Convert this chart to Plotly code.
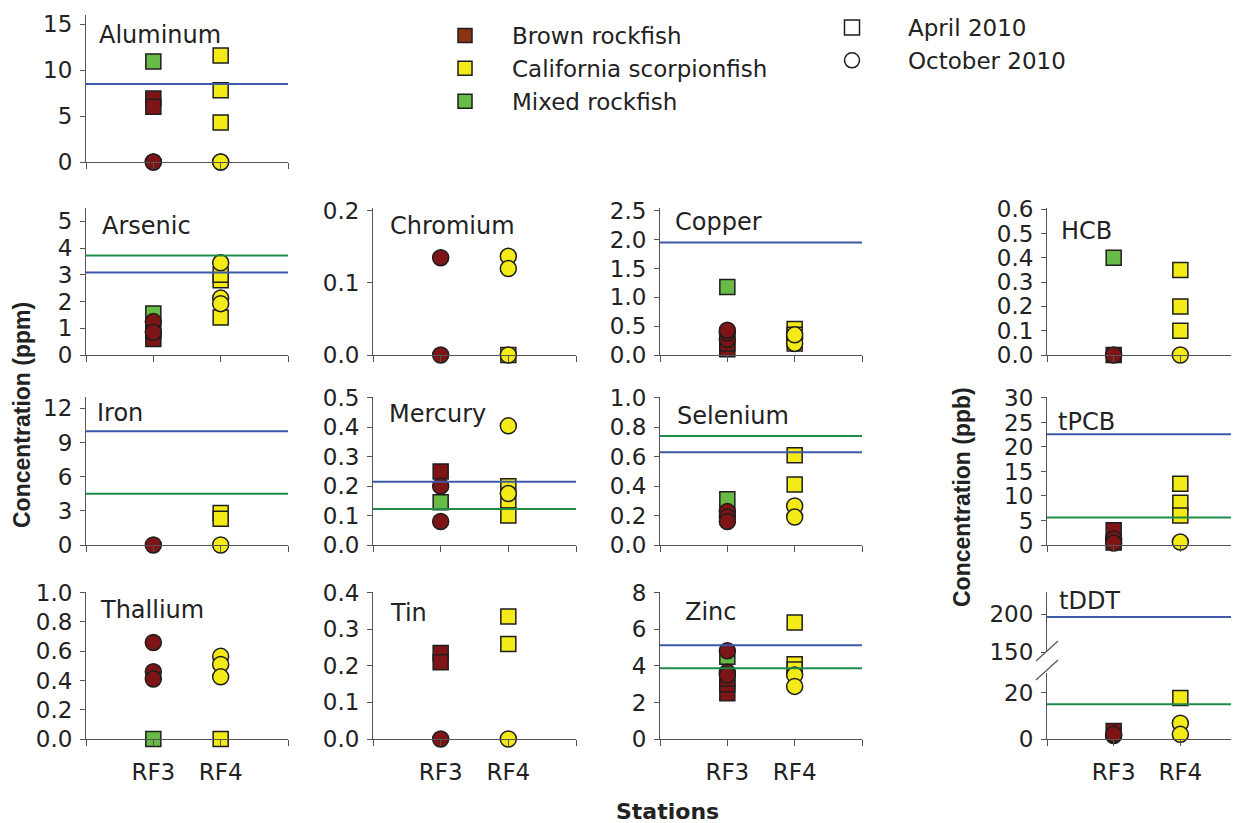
import plotly.graph_objects as go

# ---------------- data ----------------
STATIONS = ["RF3", "RF4"]
ELEMENTS = ["Aluminum", "Arsenic", "Chromium", "Copper", "HCB",
            "Iron", "Mercury", "Selenium", "tPCB",
            "Thallium", "Tin", "Zinc", "tDDT"]

# Brown rockfish and Mixed rockfish were caught at RF3, California scorpionfish at RF4
BROWN_APR = {"Aluminum": [6.9, 6.0], "Arsenic": [0.6, 0.9], "Chromium": [],
             "Copper": [0.1, 0.2], "HCB": [0.0], "Iron": [], "Mercury": [0.25],
             "Selenium": [0.2], "tPCB": [3.0, 0.5], "Thallium": [],
             "Tin": [0.235, 0.21], "Zinc": [2.5, 3.0, 3.3], "tDDT": [3.5]}
MIXED_APR = {"Aluminum": [10.95], "Arsenic": [1.55], "Chromium": [],
             "Copper": [1.18], "HCB": [0.40], "Iron": [], "Mercury": [0.145],
             "Selenium": [0.31], "tPCB": [], "Thallium": [0.0],
             "Tin": [], "Zinc": [4.5], "tDDT": []}
SCORP_APR = {"Aluminum": [11.6, 7.8, 4.3], "Arsenic": [1.4, 2.8, 3.0], "Chromium": [0.0],
             "Copper": [0.45, 0.2, 0.35], "HCB": [0.35, 0.2, 0.1], "Iron": [2.8, 2.3],
             "Mercury": [0.2, 0.15, 0.1], "Selenium": [0.61, 0.41], "tPCB": [12.5, 8.6, 6.0],
             "Thallium": [0.0], "Tin": [0.335, 0.26], "Zinc": [6.38, 4.1, 3.8], "tDDT": [17.7]}
BROWN_OCT = {"Aluminum": [0.0, 0.0], "Arsenic": [1.25, 0.85], "Chromium": [0.135, 0.0],
             "Copper": [0.27, 0.38, 0.43], "HCB": [0.0], "Iron": [0.0], "Mercury": [0.2, 0.08],
             "Selenium": [0.227, 0.19, 0.16], "tPCB": [1.2, 0.4], "Thallium": [0.66, 0.46, 0.41],
             "Tin": [0.0], "Zinc": [4.83, 3.66, 3.5], "tDDT": [1.5, 2.0]}
SCORP_OCT = {"Aluminum": [0.0, 0.0], "Arsenic": [3.45, 2.13, 1.92], "Chromium": [0.137, 0.12, 0.0],
             "Copper": [0.3, 0.2, 0.35], "HCB": [0.0], "Iron": [0.0], "Mercury": [0.405, 0.175],
             "Selenium": [0.265, 0.19], "tPCB": [0.6], "Thallium": [0.565, 0.51, 0.425],
             "Tin": [0.0], "Zinc": [3.5, 2.88], "tDDT": [6.8, 2.0]}

BLUE_LINE = {"Aluminum": 8.5, "Arsenic": 3.09, "Copper": 1.95, "Iron": 10.0,
             "Mercury": 0.215, "Selenium": 0.63, "tPCB": 22.6, "Zinc": 5.13, "tDDT": 196}
GREEN_LINE = {"Arsenic": 3.72, "Iron": 4.5, "Mercury": 0.122, "Selenium": 0.74,
              "tPCB": 5.6, "Zinc": 3.88, "tDDT": 15}

# y-axis ranges / tick steps / formats
Y_RANGE = {"Aluminum": [0, 16], "Arsenic": [0, 5.5], "Chromium": [0, 0.204], "Copper": [0, 2.55],
           "HCB": [0, 0.605], "Iron": [0, 13], "Mercury": [0, 0.503], "Selenium": [0, 1.005],
           "tPCB": [0, 30.2], "Thallium": [0, 1.005], "Tin": [0, 0.402], "Zinc": [0, 8.05],
           "tDDT": [0, 28.5]}
Y_DTICK = {"Aluminum": 5, "Arsenic": 1, "Chromium": 0.1, "Copper": 0.5, "HCB": 0.1,
           "Iron": 3, "Mercury": 0.1, "Selenium": 0.2, "tPCB": 5, "Thallium": 0.2,
           "Tin": 0.1, "Zinc": 2, "tDDT": 20}
Y_FMT = {"Chromium": ".1f", "Copper": ".1f", "HCB": ".1f", "Mercury": ".1f",
         "Selenium": ".1f", "Thallium": ".1f", "Tin": ".1f"}
TDDT_UPPER_RANGE = [150, 229]
TDDT_UPPER_TICKS = [150, 200]

# ---------------- layout geometry (screen pixels) ----------------
W, H = 1239, 823
PAGE_OFF = 8  # default page margin around the figure
COLS = [(86, 288, 3.0), (373, 576, 3.0), (660, 862, 3.0), (1047, 1247, 3.0)]
ROWS = [(15, 162), (208, 355), (397, 545), (592, 739)]
GRID = {"Aluminum": (0, 0), "Arsenic": (1, 0), "Chromium": (1, 1), "Copper": (1, 2), "HCB": (1, 3),
        "Iron": (2, 0), "Mercury": (2, 1), "Selenium": (2, 2), "tPCB": (2, 3),
        "Thallium": (3, 0), "Tin": (3, 1), "Zinc": (3, 2), "tDDT": (3, 3)}
# panel-label offsets (dx from axis line, dy of text centre from panel top), pixels
LABEL_OFF = {"Aluminum": (11, 20), "Arsenic": (14, 18), "Chromium": (15, 18), "Copper": (13, 14),
             "HCB": (12, 23), "Iron": (9, 16), "Mercury": (14, 17), "Selenium": (15, 19),
             "tPCB": (9, 25), "Thallium": (12, 18), "Tin": (15, 21), "Zinc": (23, 20),
             "tDDT": (10, 9)}

BROWN = "#7d1517"
BROWN_LEG = "#8a3414"
YELLOW = "#f3ea17"
GREEN = "#69bb47"
BLUE_L = "#3d59a8"
GREEN_L = "#1f8b4b"
EDGE = "#1e1e1e"
AX = "#555555"
FONT = "DejaVu Sans, Arial, sans-serif"
FONT_B = "Liberation Sans, Arial, sans-serif"
TXT = "#222222"
FS = 23


def px_x(p):
    return min(1.0, (p - PAGE_OFF) / W)


def px_y(p):
    return 1 - (p - PAGE_OFF) / H


fig = go.Figure()
layout = dict(width=W, height=H, margin=dict(l=0, r=0, t=0, b=0, autoexpand=False),
              paper_bgcolor="white", plot_bgcolor="white",
              font=dict(family=FONT, size=FS, color=TXT))
shapes = []
annotations = []

common_y = dict(ticks="outside", ticklen=5, tickcolor=AX, showline=True, linecolor=AX,
                linewidth=1, showgrid=False, zeroline=False, fixedrange=True, automargin=False,
                ticklabelstandoff=3, tickfont=dict(size=FS, color=TXT, family=FONT))

for i, el in enumerate(ELEMENTS, start=1):
    r, c = GRID[el]
    x0, x1, xr = COLS[c]
    top, bot = ROWS[r]
    xa = "xaxis" if i == 1 else f"xaxis{i}"
    ya = "yaxis" if i == 1 else f"yaxis{i}"
    xs = "x" if i == 1 else f"x{i}"
    ys = "y" if i == 1 else f"y{i}"
    is_bottom = r == 3
    if el == "tDDT":
        ydom = [px_y(bot), px_y(673)]
    else:
        ydom = [px_y(bot), px_y(top)]
    layout[xa] = dict(domain=[px_x(x0), px_x(x1)], range=[0, xr], anchor=ys,
                      tickmode="array", tickvals=[0, 1, 2, 3],
                      ticktext=["", STATIONS[0], STATIONS[1], ""] if is_bottom else ["", "", "", ""],
                      ticks="outside", ticklen=6, tickcolor=AX, showline=True, linecolor=AX,
                      linewidth=1, showgrid=False, zeroline=False, fixedrange=True,
                      automargin=False, ticklabelstandoff=6,
                      tickfont=dict(size=FS, color=TXT, family=FONT))
    ydict = dict(domain=ydom, range=Y_RANGE[el], anchor=xs, dtick=Y_DTICK[el], tick0=0, **common_y)
    if el in Y_FMT:
        ydict["tickformat"] = Y_FMT[el]
    layout[ya] = ydict

    # broken axis for tDDT
    upper_ys = None
    if el == "tDDT":
        upper_ys = "y14"
        layout["yaxis14"] = dict(domain=[px_y(652), px_y(top)], range=TDDT_UPPER_RANGE, anchor=xs,
                                 tickmode="array", tickvals=TDDT_UPPER_TICKS, **common_y)
        for yc in (651, 670):
            shapes.append(dict(type="line", xref="paper", yref="paper",
                               x0=px_x(1036), y0=px_y(yc + 10), x1=px_x(1058), y1=px_y(yc - 10),
                               line=dict(color=AX, width=1.2)))

    def axis_for(v):
        if upper_ys is not None and v >= TDDT_UPPER_RANGE[0]:
            return upper_ys
        return ys

    # threshold lines
    for dct, col in ((BLUE_LINE, BLUE_L), (GREEN_LINE, GREEN_L)):
        if el in dct:
            v = dct[el]
            shapes.append(dict(type="line", xref=f"{xs} domain", yref=axis_for(v),
                               x0=0, x1=1, y0=v, y1=v, line=dict(color=col, width=2)))

    # markers: squares (April) first, then circles (October)
    series = [
        (BROWN_APR, 1, "square", BROWN),
        (MIXED_APR, 1, "square", GREEN),
        (SCORP_APR, 2, "square", YELLOW),
        (BROWN_OCT, 1, "circle", BROWN),
        (SCORP_OCT, 2, "circle", YELLOW),
    ]
    for dct, xpos, sym, colr in series:
        for v in dct[el]:
            fig.add_trace(go.Scatter(
                x=[xpos], y=[v], mode="markers", xaxis=xs, yaxis=axis_for(v),
                marker=dict(symbol=sym, size=15 if sym == "square" else 16, color=colr,
                            line=dict(color=EDGE, width=1.5)),
                showlegend=False, cliponaxis=False, hoverinfo="y"))

    # panel label
    dx, dy = LABEL_OFF[el]
    annotations.append(dict(text=el, xref="paper", yref="paper",
                            x=px_x(x0 + dx), y=px_y(top + dy),
                            xanchor="left", yanchor="middle", showarrow=False,
                            font=dict(size=24, color=TXT, family=FONT)))

# legends
for name, colr in (("Brown rockfish", BROWN_LEG), ("California scorpionfish", YELLOW),
                   ("Mixed rockfish", GREEN)):
    fig.add_trace(go.Scatter(x=[None], y=[None], mode="markers", name=name, legend="legend",
                             marker=dict(symbol="square", size=14, color=colr,
                                         line=dict(color=EDGE, width=1.5))))
for name, sym in (("April 2010", "square"), ("October 2010", "circle")):
    fig.add_trace(go.Scatter(x=[None], y=[None], mode="markers", name=name, legend="legend2",
                             marker=dict(symbol=sym, size=15, color="white",
                                         line=dict(color=EDGE, width=1.5))))

layout["legend"] = dict(x=px_x(418), y=px_y(14), xanchor="left", yanchor="top",
                        bgcolor="rgba(0,0,0,0)", font=dict(size=FS, color=TXT, family=FONT),
                        itemwidth=84, tracegroupgap=0)
layout["legend2"] = dict(x=px_x(796), y=px_y(6), xanchor="left", yanchor="top",
                         bgcolor="rgba(0,0,0,0)", font=dict(size=FS, color=TXT, family=FONT),
                         itemwidth=102, tracegroupgap=0)

# axis titles
annotations.append(dict(text="<b>Concentration (ppm)</b>", xref="paper", yref="paper",
                        x=px_x(22), y=px_y(415), textangle=-90, showarrow=False,
                        xanchor="center", yanchor="middle",
                        font=dict(size=23, color=TXT, family=FONT_B)))
annotations.append(dict(text="<b>Concentration (ppb)</b>", xref="paper", yref="paper",
                        x=px_x(962), y=px_y(497), textangle=-90, showarrow=False,
                        xanchor="center", yanchor="middle",
                        font=dict(size=23, color=TXT, family=FONT_B)))
annotations.append(dict(text="<b>Stations</b>", xref="paper", yref="paper",
                        x=px_x(667), y=px_y(811), showarrow=False,
                        xanchor="center", yanchor="middle",
                        font=dict(size=22, color=TXT, family=FONT)))

layout["shapes"] = shapes
layout["annotations"] = annotations
fig.update_layout(**layout)
fig.write_html("out.html")
